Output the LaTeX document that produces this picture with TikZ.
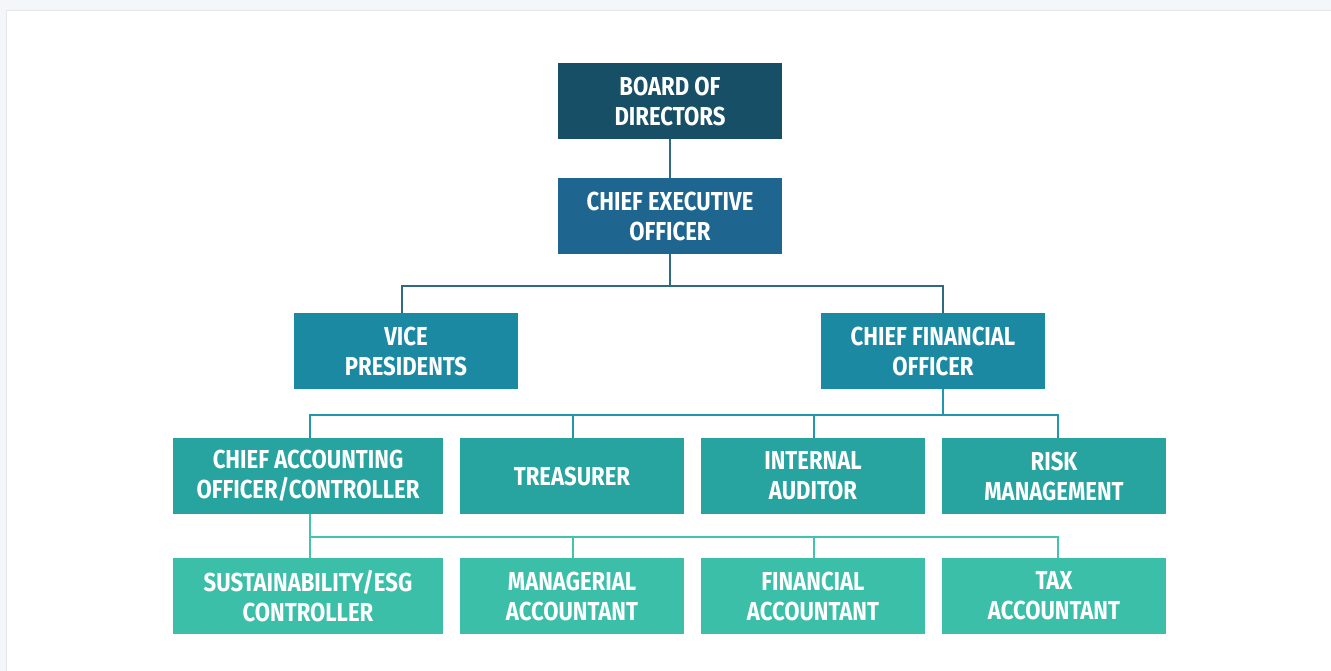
\documentclass[tikz,border=0pt]{standalone}
\usepackage{fontspec}
\newfontfamily\boxfont{Fira Sans}[FakeStretch=0.85]
\begin{document}
\begin{tikzpicture}[x=1pt,y=-1pt,
  box/.style={rectangle, inner sep=0pt, minimum width=224pt, minimum height=76pt,
    text=white, align=center, font=\boxfont\bfseries\fontsize{26}{30}\selectfont},
  widebox/.style={box, minimum width=270pt},
  lineA/.style={draw=lineTop, line width=2pt},
  lineB/.style={draw=lineMid, line width=2pt},
  lineC/.style={draw=lineLow, line width=2pt}]
\definecolor{pagebg}{HTML}{F4F7FA}
\definecolor{cardedge}{HTML}{E3E6EA}
\definecolor{boardc}{HTML}{174F66}
\definecolor{ceoc}{HTML}{1E6690}
\definecolor{execc}{HTML}{1C89A2}
\definecolor{midc}{HTML}{27A49F}
\definecolor{lowc}{HTML}{3CBFA8}
\definecolor{lineTop}{HTML}{2E6A80}
\definecolor{lineMid}{HTML}{2196AE}
\definecolor{lineLow}{HTML}{42C3AE}

% page and card
\useasboundingbox (0,0) rectangle (1331,671);
\fill[pagebg] (0,0) rectangle (1331,671);
\filldraw[fill=white, draw=cardedge, line width=1.5pt] (6.5,10.5) rectangle (1340,680);

% top levels
\node[box, fill=boardc] (board) at (670,101) {BOARD OF\\DIRECTORS};
\node[box, fill=ceoc]   (ceo)   at (670,216) {CHIEF EXECUTIVE\\OFFICER};
\node[box, fill=execc]  (vp)    at (406,351) {VICE\\PRESIDENTS};
\node[box, fill=execc]  (cfo)   at (933,351) {CHIEF FINANCIAL\\OFFICER};

% finance officers
\node[widebox, fill=midc] (cao)  at (308,476) {CHIEF ACCOUNTING\\OFFICER/CONTROLLER};
\node[box, fill=midc]     (tre)  at (572,476) {TREASURER};
\node[box, fill=midc]     (aud)  at (813,476) {INTERNAL\\AUDITOR};
\node[box, fill=midc]     (risk) at (1054,476) {RISK\\MANAGEMENT};

% accounting staff
\node[widebox, fill=lowc] (esg) at (308,596) {SUSTAINABILITY/ESG\\CONTROLLER};
\node[box, fill=lowc]     (man) at (572,596) {MANAGERIAL\\ACCOUNTANT};
\node[box, fill=lowc]     (fin) at (813,596) {FINANCIAL\\ACCOUNTANT};
\node[box, fill=lowc]     (tax) at (1054,596) {TAX\\ACCOUNTANT};

% bus junctions
\coordinate (busA) at (670,285.5);
\coordinate (busB) at (942.7,415);
\coordinate (busC) at (309.5,537.3);

% board -> CEO -> VP / CFO
\draw[lineA] (board) -- (ceo);
\draw[lineA] (ceo.south) -- (busA);
\draw[lineA] ([xshift=-4pt]vp.north) |- (busA) -| ([xshift=9.7pt]cfo.north);

% CFO -> finance officers
\draw[lineB] ([xshift=9.7pt]cfo.south) -- (busB);
\draw[lineB] ([xshift=1.5pt]cao.north) |- (busB) -| ([xshift=4pt]risk.north);
\draw[lineB] ([xshift=1pt]tre.north) -- ([xshift=1pt]tre.north |- busB);
\draw[lineB] ([xshift=1pt]aud.north) -- ([xshift=1pt]aud.north |- busB);

% controller -> accounting staff
\draw[lineC] ([xshift=1.5pt]cao.south) -- ([xshift=1.5pt]esg.north);
\draw[lineC] (busC) -| ([xshift=4pt]tax.north);
\draw[lineC] ([xshift=1pt]man.north) -- ([xshift=1pt]man.north |- busC);
\draw[lineC] ([xshift=1pt]fin.north) -- ([xshift=1pt]fin.north |- busC);
\end{tikzpicture}
\end{document}
